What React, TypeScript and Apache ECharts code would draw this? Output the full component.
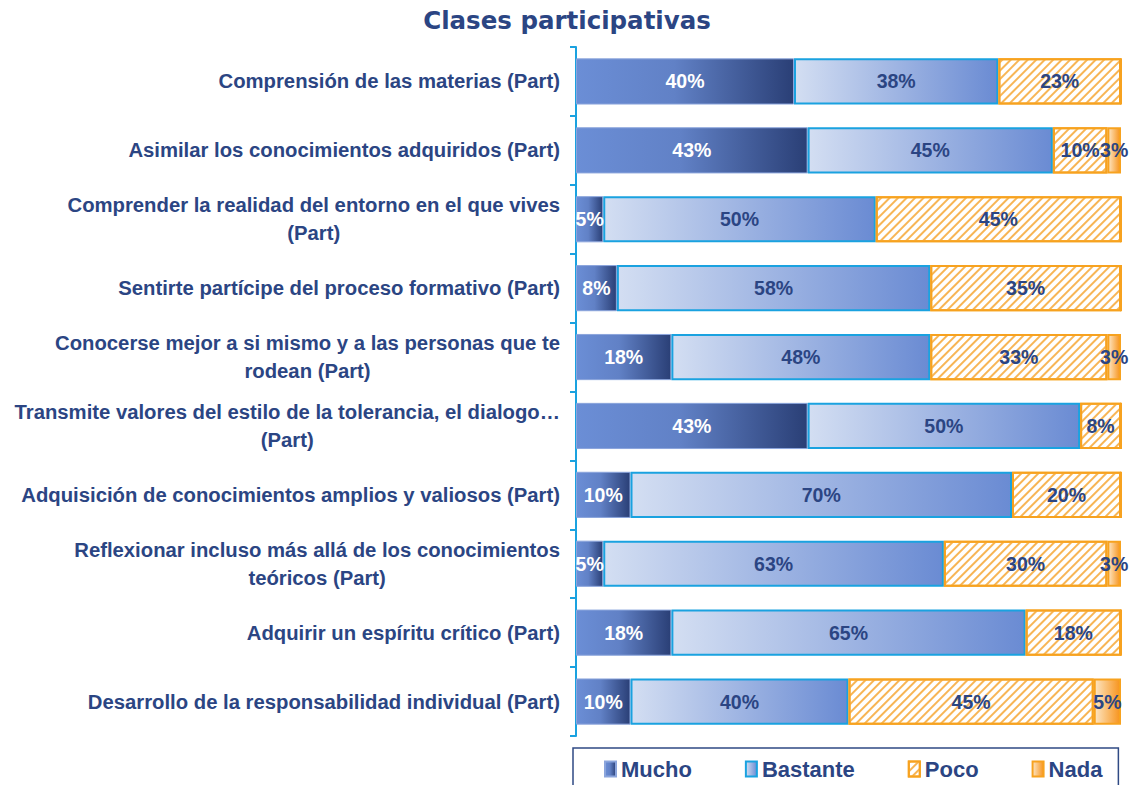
import React, { useEffect, useRef } from "react";
import * as echarts from "echarts";

const TITLE = "Clases participativas";

const categories: string[] = [
  "Comprensión de las materias (Part)",
  "Asimilar los conocimientos adquiridos (Part)",
  "Comprender la realidad del entorno en el que vives\n(Part)",
  "Sentirte partícipe del proceso formativo (Part)",
  "Conocerse mejor a si mismo y a las personas que te\nrodean (Part)",
  "Transmite valores del estilo de la tolerancia, el dialogo…\n(Part)",
  "Adquisición de conocimientos amplios y valiosos (Part)",
  "Reflexionar incluso más allá de los conocimientos\nteóricos (Part)",
  "Adquirir un espíritu crítico (Part)",
  "Desarrollo de la responsabilidad individual (Part)",
];

const seriesNames = ["Mucho", "Bastante", "Poco", "Nada"];

const mucho: number[] = [40, 42.5, 5, 7.5, 17.5, 42.5, 10, 5, 17.5, 10];
const bastante: number[] = [37.5, 45, 50, 57.5, 47.5, 50, 70, 62.5, 65, 40];
const poco: number[] = [22.5, 10, 45, 35, 32.5, 7.5, 20, 30, 17.5, 45];
const nada: number[] = [0, 2.5, 0, 0, 2.5, 0, 0, 2.5, 0, 5];

const NAVY = "#2b4583";
const LABEL_FONT = "'Liberation Sans', Arial, sans-serif";

const grad = (stops: [number, string][]) => ({
  type: "linear",
  x: 0,
  y: 0,
  x2: 1,
  y2: 0,
  colorStops: stops.map(([offset, color]) => ({ offset, color })),
});

const pct = (p: any) => (p.value ? Math.round(p.value) + "%" : "");

export default function App() {
  const ref = useRef<HTMLDivElement>(null);

  useEffect(() => {
    if (!ref.current) return;
    const chart = echarts.init(ref.current, undefined, { renderer: "svg" });

    const labelBase = {
      show: true,
      position: "inside",
      fontFamily: LABEL_FONT,
      fontWeight: "bold",
      fontSize: 19.5,
      formatter: pct,
    };

    const styles: any[] = [
      {
        itemStyle: {
          color: grad([
            [0, "#6b8ed6"],
            [0.45, "#6181c6"],
            [1, "#2a3f76"],
          ]),
          borderColor: "#8ba5dc",
          borderWidth: 1,
        },
        label: { ...labelBase, color: "#ffffff" },
      },
      {
        itemStyle: {
          color: grad([
            [0, "#d3def2"],
            [1, "#6a8bd3"],
          ]),
          borderColor: "#1aa2e0",
          borderWidth: 2,
        },
        label: { ...labelBase, color: NAVY },
      },
      {
        itemStyle: {
          color: "#ffffff",
          borderColor: "#f7a21f",
          borderWidth: 2,
          decal: {
            symbol: "rect",
            symbolSize: 1,
            color: "#f7b555",
            dashArrayX: [1, 0],
            dashArrayY: [1.6, 3.2],
            rotation: -Math.PI / 4,
          },
        },
        label: { ...labelBase, color: NAVY },
      },
      {
        itemStyle: {
          color: grad([
            [0, "#fde6c4"],
            [1, "#f7941d"],
          ]),
          borderColor: "#f7a21f",
          borderWidth: 2,
        },
        label: { ...labelBase, color: NAVY },
      },
    ];

    const values = [mucho, bastante, poco, nada];

    const option: any = {
      animation: false,
      backgroundColor: "#ffffff",
      title: {
        text: TITLE,
        left: 562,
        textAlign: "center",
        top: 3,
        textStyle: {
          fontFamily: "'DejaVu Sans', Verdana, sans-serif",
          fontWeight: "bold",
          fontSize: 24.5,
          color: NAVY,
        },
      },
      grid: { left: 576, right: 12, top: 47, bottom: 49, containLabel: false },
      xAxis: { type: "value", min: 0, max: 100, show: false },
      yAxis: {
        type: "category",
        inverse: true,
        data: categories,
        axisLine: { show: true, lineStyle: { color: "#1aa2e0", width: 2 } },
        axisTick: { show: true, length: 6, lineStyle: { color: "#1aa2e0", width: 2 } },
        axisLabel: {
          margin: 16,
          formatter: (v: string) =>
            v
              .split("\n")
              .map((l) => `{c|${l}}`)
              .join("\n"),
          rich: {
            c: {
              align: "center",
              fontFamily: LABEL_FONT,
              fontWeight: "bold",
              fontSize: 20.3,
              color: NAVY,
              lineHeight: 28,
            },
          },
        },
      },
      legend: {
        top: 748,
        left: 573,
        data: seriesNames,
        icon: "rect",
        itemWidth: 11,
        itemHeight: 15,
        itemGap: 53,
        padding: [10, 16, 30, 31],
        borderColor: "#2f4a84",
        borderWidth: 1.5,
        textStyle: {
          fontFamily: LABEL_FONT,
          fontWeight: "bold",
          fontSize: 22,
          color: NAVY,
        },
      },
      series: seriesNames.map((name, i) => ({
        name,
        type: "bar",
        stack: "total",
        barCategoryGap: "33%",
        data: values[i],
        itemStyle: styles[i].itemStyle,
        label: styles[i].label,
        emphasis: { disabled: true },
      })),
    };

    chart.setOption(option);
    return () => chart.dispose();
  }, []);

  return (
    <div
      ref={ref}
      style={{ position: "fixed", left: 0, top: 0, width: 1133, height: 785, background: "#fff" }}
    />
  );
}
